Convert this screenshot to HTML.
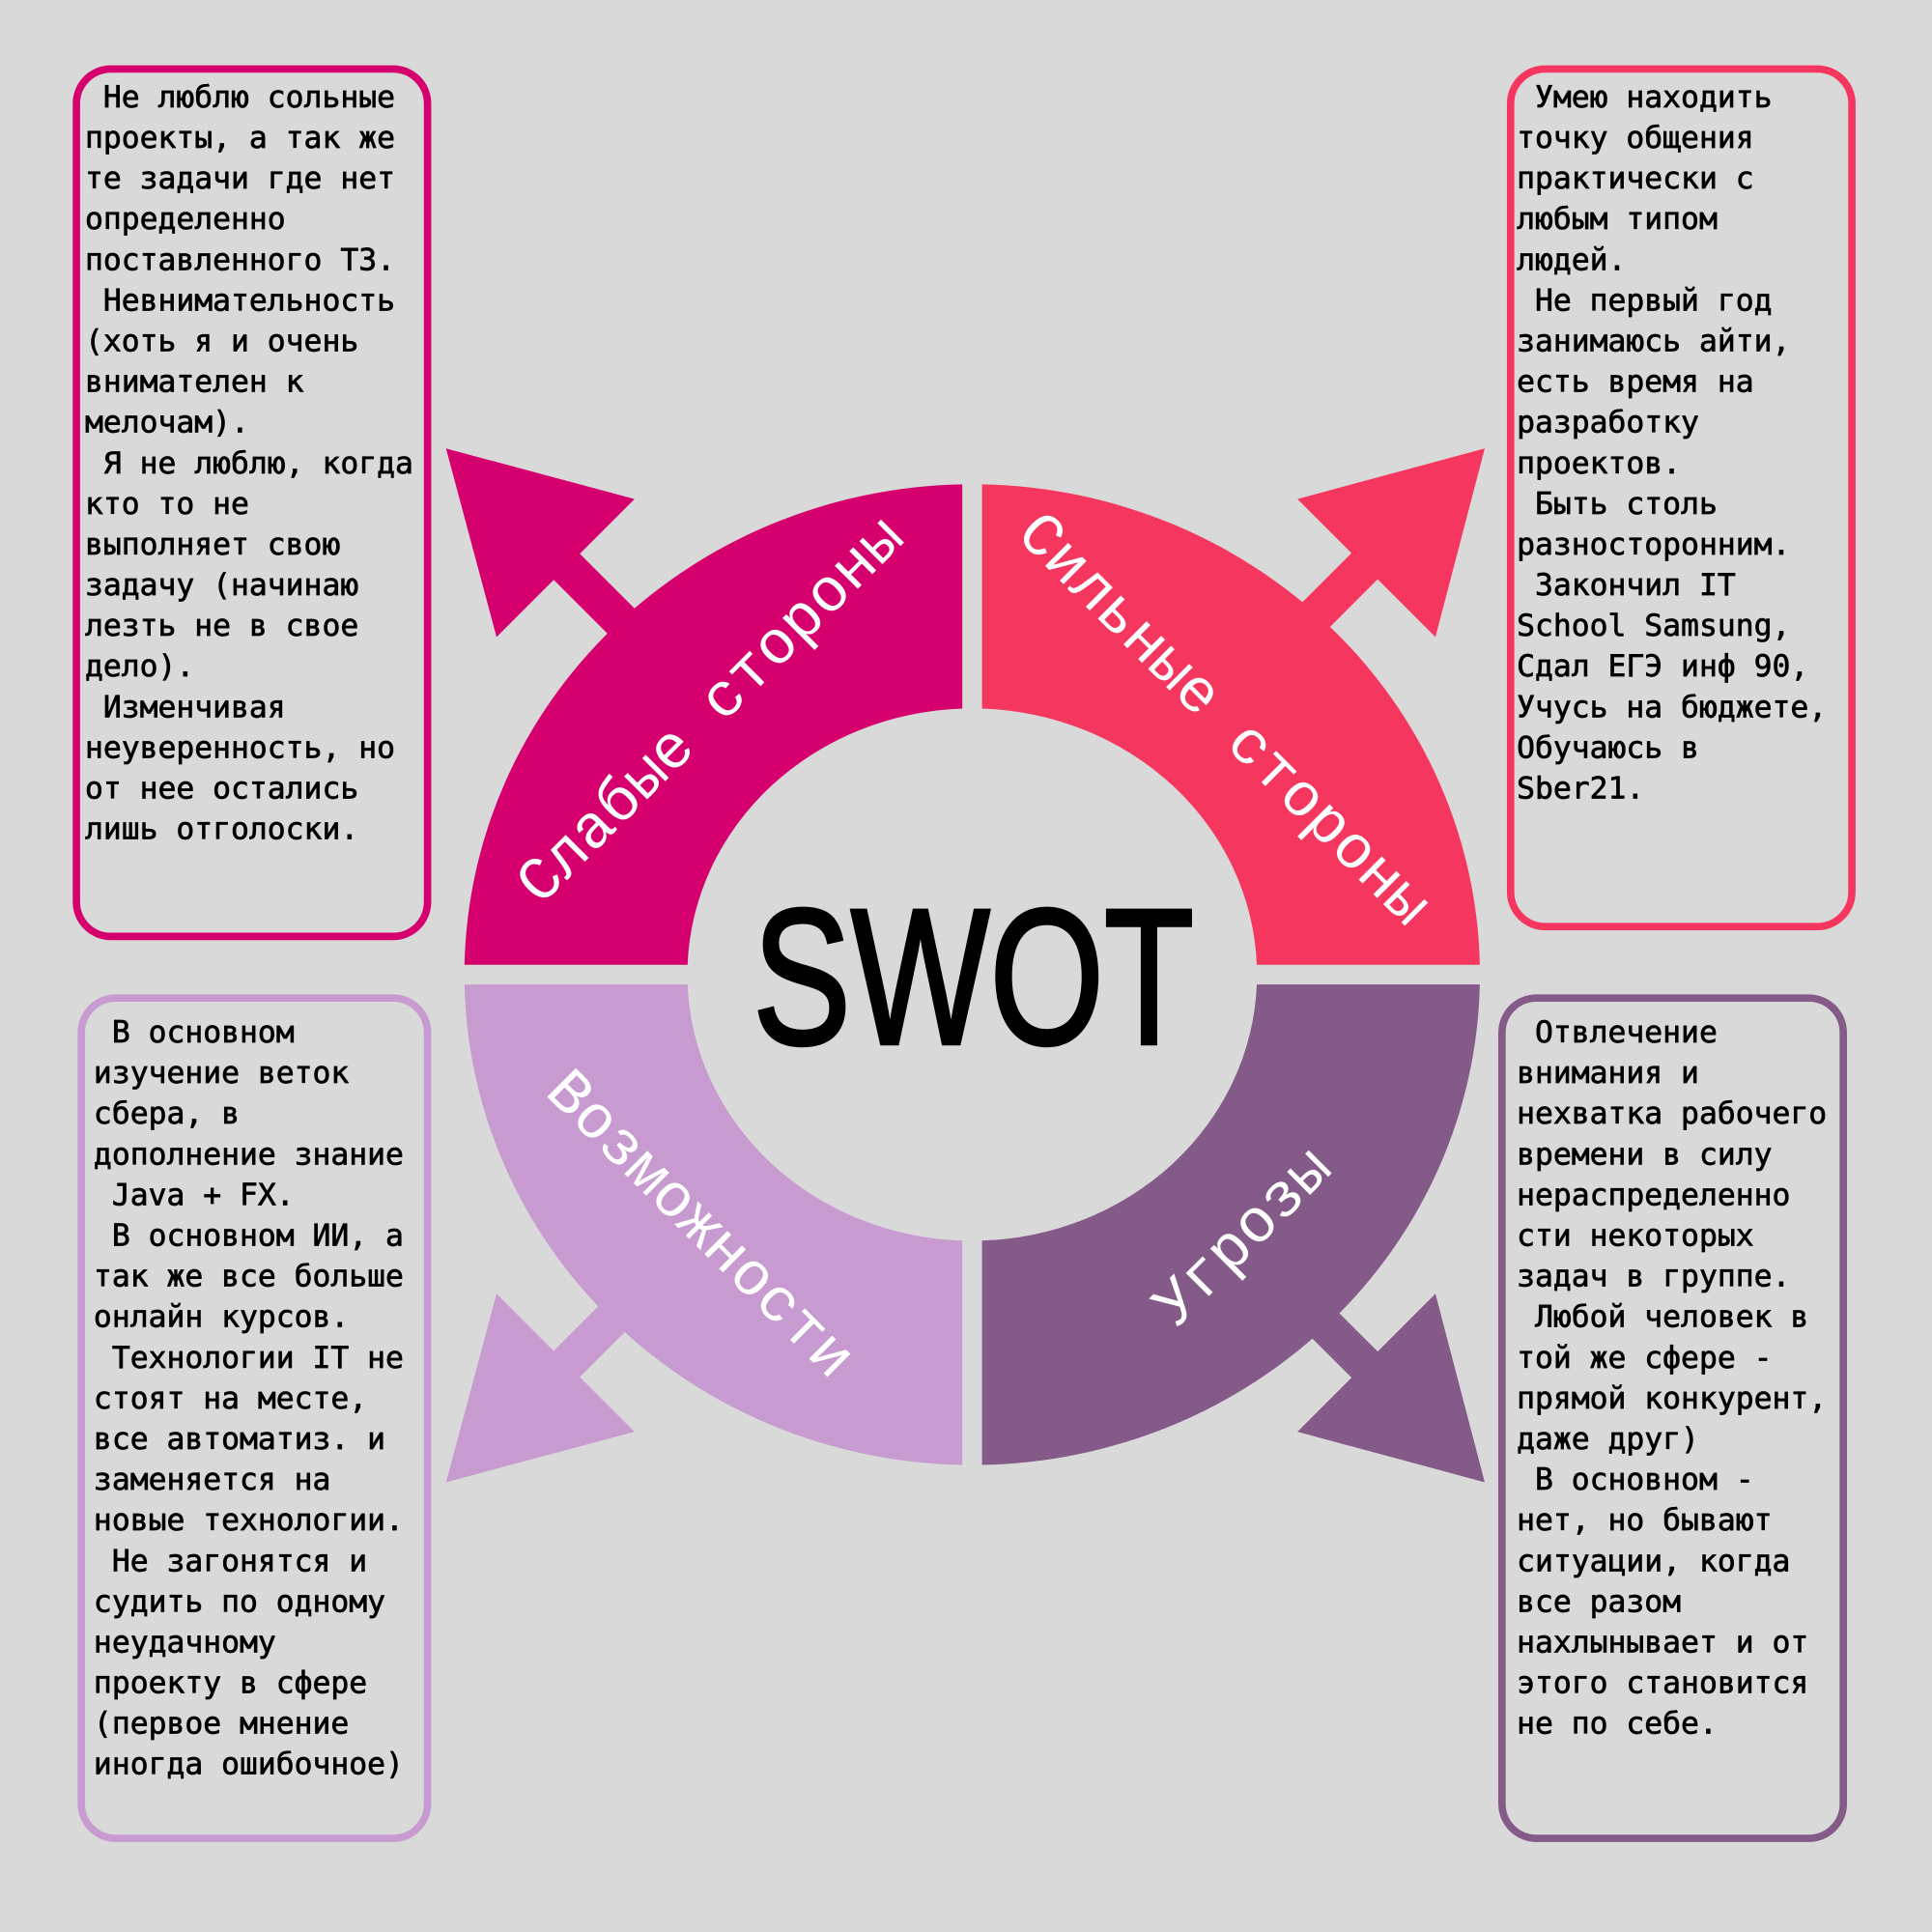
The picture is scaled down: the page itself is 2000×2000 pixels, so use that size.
<!DOCTYPE html>
<html><head><meta charset="utf-8"><style>
html,body{margin:0;padding:0;background:#D9D9D9;}
svg{display:block}
.t{font-family:"DejaVu Sans Mono","Liberation Mono",monospace;font-size:24.6px;fill:#000;stroke:#000;stroke-width:0.55px;white-space:pre}
.l{font-family:"Liberation Mono","DejaVu Sans Mono",monospace;font-size:50px;fill:#fff;text-anchor:middle}
</style></head><body>
<svg width="2000" height="2000" viewBox="0 0 1568 1568" xmlns="http://www.w3.org/2000/svg">
<rect width="1568" height="1568" fill="#D9D9D9"/>
<line x1="450" y1="450" x2="525" y2="525" stroke="#D5006D" stroke-width="30"/>
<line x1="1117" y1="450" x2="1042" y2="525" stroke="#F5365F" stroke-width="30"/>
<line x1="450" y1="1117" x2="525" y2="1042" stroke="#C79BD0" stroke-width="30"/>
<line x1="1117" y1="1117" x2="1042" y2="1042" stroke="#845B88" stroke-width="30"/>
<polygon points="362,364 515,405 403,517" fill="#D5006D"/>
<polygon points="1205,364 1053,405 1165,517" fill="#F5365F"/>
<polygon points="362,1203 403,1050 515,1162" fill="#C79BD0"/>
<polygon points="1205,1203 1165,1050 1053,1162" fill="#845B88"/>
<path d="M377,783 A412,398 0 0 1 781,393.1 L781,575.1 A231,216 0 0 0 558,783 Z" fill="#D5006D"/>
<path d="M797,393.1 A412,398 0 0 1 1201,783 L1020,783 A231,216 0 0 0 797,575.1 Z" fill="#F5365F"/>
<path d="M377,799 A412,398 0 0 0 781,1188.9 L781,1006.9 A231,216 0 0 1 558,799 Z" fill="#C79BD0"/>
<path d="M797,1188.9 A412,398 0 0 0 1201,799 L1020,799 A231,216 0 0 1 797,1006.9 Z" fill="#845B88"/>
<text class="l" transform="translate(575,575) rotate(-45)" dy="17">Слабые стороны</text>
<text class="l" transform="translate(995,582) rotate(45)" dy="17">Сильные стороны</text>
<text class="l" transform="translate(570,992) rotate(45)" dy="17">Возможности</text>
<text class="l" transform="translate(1007,1002) rotate(-45)" dy="17">Угрозы</text>
<text x="611" y="847" font-family="Liberation Sans, sans-serif" font-size="157" textLength="358" lengthAdjust="spacingAndGlyphs" fill="#000" stroke="#000" stroke-width="3">SWOT</text>
<rect x="62" y="56" width="285" height="704" rx="28" fill="none" stroke="#D5006D" stroke-width="6"/>
<rect x="1226" y="56" width="277" height="696" rx="28" fill="none" stroke="#F5365F" stroke-width="6"/>
<rect x="66" y="810" width="281" height="682" rx="28" fill="none" stroke="#C79BD0" stroke-width="6"/>
<rect x="1219" y="810" width="277" height="682" rx="28" fill="none" stroke="#845B88" stroke-width="6"/>
<text class="t" x="69" y="87" xml:space="preserve"><tspan x="69" dy="0"> Не люблю сольные</tspan><tspan x="69" dy="33">проекты, а так же</tspan><tspan x="69" dy="33">те задачи где нет</tspan><tspan x="69" dy="33">определенно</tspan><tspan x="69" dy="33">поставленного ТЗ.</tspan><tspan x="69" dy="33"> Невнимательность</tspan><tspan x="69" dy="33">(хоть я и очень</tspan><tspan x="69" dy="33">внимателен к</tspan><tspan x="69" dy="33">мелочам).</tspan><tspan x="69" dy="33"> Я не люблю, когда</tspan><tspan x="69" dy="33">кто то не</tspan><tspan x="69" dy="33">выполняет свою</tspan><tspan x="69" dy="33">задачу (начинаю</tspan><tspan x="69" dy="33">лезть не в свое</tspan><tspan x="69" dy="33">дело).</tspan><tspan x="69" dy="33"> Изменчивая</tspan><tspan x="69" dy="33">неуверенность, но</tspan><tspan x="69" dy="33">от нее остались</tspan><tspan x="69" dy="33">лишь отголоски.</tspan></text>
<text class="t" x="1231" y="87" xml:space="preserve"><tspan x="1231" dy="0"> Умею находить</tspan><tspan x="1231" dy="33">точку общения</tspan><tspan x="1231" dy="33">практически с</tspan><tspan x="1231" dy="33">любым типом</tspan><tspan x="1231" dy="33">людей.</tspan><tspan x="1231" dy="33"> Не первый год</tspan><tspan x="1231" dy="33">занимаюсь айти,</tspan><tspan x="1231" dy="33">есть время на</tspan><tspan x="1231" dy="33">разработку</tspan><tspan x="1231" dy="33">проектов.</tspan><tspan x="1231" dy="33"> Быть столь</tspan><tspan x="1231" dy="33">разносторонним.</tspan><tspan x="1231" dy="33"> Закончил IT</tspan><tspan x="1231" dy="33">School Samsung,</tspan><tspan x="1231" dy="33">Сдал ЕГЭ инф 90,</tspan><tspan x="1231" dy="33">Учусь на бюджете,</tspan><tspan x="1231" dy="33">Обучаюсь в</tspan><tspan x="1231" dy="33">Sber21.</tspan></text>
<text class="t" x="76" y="846" xml:space="preserve"><tspan x="76" dy="0"> В основном</tspan><tspan x="76" dy="33">изучение веток</tspan><tspan x="76" dy="33">сбера, в</tspan><tspan x="76" dy="33">дополнение знание</tspan><tspan x="76" dy="33"> Java + FX.</tspan><tspan x="76" dy="33"> В основном ИИ, а</tspan><tspan x="76" dy="33">так же все больше</tspan><tspan x="76" dy="33">онлайн курсов.</tspan><tspan x="76" dy="33"> Технологии IT не</tspan><tspan x="76" dy="33">стоят на месте,</tspan><tspan x="76" dy="33">все автоматиз. и</tspan><tspan x="76" dy="33">заменяется на</tspan><tspan x="76" dy="33">новые технологии.</tspan><tspan x="76" dy="33"> Не загонятся и</tspan><tspan x="76" dy="33">судить по одному</tspan><tspan x="76" dy="33">неудачному</tspan><tspan x="76" dy="33">проекту в сфере</tspan><tspan x="76" dy="33">(первое мнение</tspan><tspan x="76" dy="33">иногда ошибочное)</tspan></text>
<text class="t" x="1231" y="846" xml:space="preserve"><tspan x="1231" dy="0"> Отвлечение</tspan><tspan x="1231" dy="33">внимания и</tspan><tspan x="1231" dy="33">нехватка рабочего</tspan><tspan x="1231" dy="33">времени в силу</tspan><tspan x="1231" dy="33">нераспределенно</tspan><tspan x="1231" dy="33">сти некоторых</tspan><tspan x="1231" dy="33">задач в группе.</tspan><tspan x="1231" dy="33"> Любой человек в</tspan><tspan x="1231" dy="33">той же сфере -</tspan><tspan x="1231" dy="33">прямой конкурент,</tspan><tspan x="1231" dy="33">даже друг)</tspan><tspan x="1231" dy="33"> В основном -</tspan><tspan x="1231" dy="33">нет, но бывают</tspan><tspan x="1231" dy="33">ситуации, когда</tspan><tspan x="1231" dy="33">все разом</tspan><tspan x="1231" dy="33">нахлынывает и от</tspan><tspan x="1231" dy="33">этого становится</tspan><tspan x="1231" dy="33">не по себе.</tspan></text>
</svg>
</body></html>
